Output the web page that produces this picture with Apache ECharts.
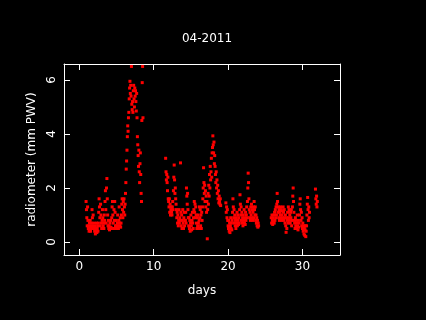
<!DOCTYPE html>
<html>
<head>
<meta charset="utf-8">
<script src="https://cdn.jsdelivr.net/npm/echarts@6/dist/echarts.min.js"></script>
<style>
  html, body { margin: 0; padding: 0; background: #000; }
  #main { width: 426px; height: 320px; }
</style>
</head>
<body>
<div id="main"></div>
<script>
// sampling step of the radiometer record, in days
var step = 0.05;

// PWV (mm), one value per step, per contiguous stretch
var segAStart = 0.9;
var segA = [
  1.5, 1.2, 0.9, 0.6, 1.3, 0.8, 0.5,
  0.6, 0.4, 0.7, 0.5, 0.8, 0.4, 0.6, 0.5, 0.7,
  1.2, 0.9, 0.6, 1.0, 0.5, 0.7,
  0.5, 0.4, 0.6, 0.3, 0.5, 0.4, 0.7, 0.35, 0.5, 0.6, 0.4,
  0.7, 1.1, 1.6, 1.3, 0.9, 0.6, 1.4, 1.0, 0.7, 0.5,
  0.8, 1.2, 0.9, 0.6, 0.7, 0.5, 1.0, 0.8,
  1.5, 1.9, 1.2, 0.7, 2.0, 2.35, 1.6, 1.0, 0.6, 0.8, 0.5,
  0.6, 0.45, 0.7, 0.5, 0.8, 0.55, 0.5,
  0.9, 1.3, 1.5, 1.0, 0.7, 0.5, 1.2, 0.8, 1.5, 1.1, 0.6, 0.5, 0.8, 0.6,
  0.5, 0.7, 1.0, 0.6, 0.5, 0.8, 1.3, 0.7, 0.6, 0.9, 0.55, 0.7,
  1.0, 1.4, 1.6, 1.2, 0.9, 1.5, 1.1, 1.6, 1.3, 1.0, 1.4,
  1.8, 2.2, 2.7, 3.0, 3.4, 3.9, 4.3, 4.1, 4.6,
  4.8, 5.3, 5.7, 5.95, 5.5, 5.8, 5.4, 6.5, 5.1,
  4.9, 5.2, 4.8, 5.6, 5.8, 5.3, 5.0, 5.7, 5.4,
  5.6, 5.2, 4.85, 5.5, 4.6,
  3.9, 3.6, 3.2, 2.8, 3.4, 2.6, 2.2, 2.9,
  3.3, 2.5, 1.8, 1.5,
  4.5, 5.9, 6.5, 4.6
];

var segBStart = 11.6;
var segB = [
  3.1, 2.6, 2.3, 2.5, 2.2, 1.9, 2.4, 1.6,
  1.5, 1.3, 1.6, 1.1, 1.4, 1.0, 1.2, 1.3, 1.1,
  1.0, 1.3, 1.5, 1.2, 1.9, 2.4,
  2.85, 2.3, 1.8, 2.0, 1.6, 1.4,
  1.2, 0.9, 1.1, 0.7, 1.0, 0.6, 0.8, 1.2, 0.7, 0.9,
  0.8, 2.93, 1.1,
  0.6, 1.0, 0.5, 0.8, 1.2, 0.7, 0.5, 0.9, 1.1, 0.6, 0.8,
  0.8, 1.1, 0.7,
  2.0, 1.7, 1.4, 1.8, 1.2, 0.9,
  0.6, 0.9, 0.5, 0.8, 0.4, 0.7, 1.0, 0.6, 0.45, 0.8, 1.1, 0.7, 0.5, 0.9,
  1.2, 1.5, 1.1, 1.4, 0.9, 1.3, 1.0,
  0.7, 0.5, 0.9, 0.6, 1.0, 0.7, 0.5, 0.8,
  1.3, 0.9, 1.2, 0.6, 1.0, 0.5, 1.1, 0.8, 1.3,
  1.6, 2.0, 2.75, 2.2, 1.8, 2.1, 1.5, 1.9, 1.3, 1.7, 1.1,
  1.5, 0.12, 1.2, 1.8,
  1.4, 2.1, 1.7, 2.5, 2.0, 2.8, 2.3, 2.6, 3.1, 2.4, 3.3,
  3.5, 3.93, 3.6, 3.3, 3.7, 2.9, 3.2,
  2.8, 2.5, 2.2, 2.6, 2.0, 2.3, 1.8, 2.1,
  1.6, 1.9, 1.45, 1.7, 1.5, 1.4, 1.6, 1.35
];

var segCStart = 19.7;
var segC = [
  1.45, 1.1, 1.3, 0.9, 1.2, 0.8, 0.6,
  0.5, 0.8, 0.4, 0.7, 0.35, 0.6, 0.9, 0.5, 0.7, 0.45,
  0.8, 1.1, 1.6, 1.3, 0.9, 1.2, 0.7, 1.0,
  0.6, 0.8, 0.5, 0.9, 0.7, 1.1, 0.6, 1.0, 0.8, 0.65, 0.9, 0.7,
  1.2, 1.75, 1.4, 1.0, 1.3, 0.8, 1.1,
  0.7, 0.9, 0.6, 1.0, 0.8, 1.2, 0.7, 0.9, 0.65, 1.1, 0.8, 1.0, 1.3, 0.9,
  1.5, 2.0, 2.55, 2.2, 1.6, 1.2, 0.9,
  1.1, 0.8, 1.3, 1.0, 1.4, 0.9, 1.2, 0.8, 1.1, 1.3, 0.9,
  1.5, 1.2, 1.0, 1.3, 0.8,
  1.0, 0.7, 0.9, 0.6, 0.8, 0.55, 0.7, 0.6
];

var segDStart = 25.8;
var segD = [
  0.9, 0.7, 1.0, 0.8, 0.65, 0.9, 0.75, 1.0, 0.7,
  1.1, 0.8, 1.2, 0.9, 1.3, 1.0,
  1.4, 1.8, 1.5, 1.1, 1.3,
  0.9, 1.2, 0.8, 1.1, 1.0, 1.3, 0.9, 1.2, 0.8, 1.0, 1.15,
  0.9, 1.3, 1.1, 0.8, 1.2, 0.9,
  0.7, 1.0, 0.6, 0.36, 0.9, 0.5, 0.8, 1.1, 0.7, 1.3,
  0.9, 1.2, 0.8, 1.0, 0.7, 1.1, 0.9, 1.2, 0.6, 0.8,
  1.3, 1.7, 2.0, 1.5, 1.1, 0.8,
  0.7, 0.5, 0.9, 0.6, 0.8, 0.5, 0.7, 1.0, 0.6, 0.45, 0.8, 0.55, 0.7,
  1.0, 1.4, 1.6, 1.2, 0.8, 1.1, 0.6, 0.9,
  0.5, 0.7, 0.4, 0.6, 0.3, 0.5, 0.25, 0.45, 0.6, 0.2, 0.4,
  0.6, 1.0, 1.4, 1.65, 1.2, 0.8, 1.3, 0.9, 1.1
];

var segEStart = 31.75;
var segE = [1.96, 1.6, 1.4, 1.7, 1.3, 1.5];

var xTicks = [0, 10, 20, 30];
var yTicks = [0, 2, 4, 6];

function toPoints(start, vals) {
  return vals.map(function (v, i) {
    return [+(start + i * step).toFixed(3), v];
  });
}

var points = [].concat(
  toPoints(segAStart, segA),
  toPoints(segBStart, segB),
  toPoints(segCStart, segC),
  toPoints(segDStart, segD),
  toPoints(segEStart, segE)
);

var chart = echarts.init(document.getElementById('main'), null, { renderer: 'canvas' });

var font = 'DejaVu Sans';
var white = '#ffffff';
var line = { show: true, onZero: false, lineStyle: { color: white, width: 1 } };

function tick(vals) {
  return { show: true, inside: true, length: 6, customValues: vals, lineStyle: { color: white, width: 1 } };
}

var option = {
  backgroundColor: '#000000',
  animation: false,
  title: {
    text: '04-2011',
    left: 202,
    top: 28,
    textAlign: 'center',
    textStyle: { color: white, fontSize: 12, fontWeight: 'normal', fontFamily: font }
  },
  grid: { left: 64, right: 86, top: 64, bottom: 65 },
  xAxis: [
    {
      type: 'value', min: -2.07, max: 35.05, position: 'bottom',
      name: 'days', nameLocation: 'middle', nameGap: 30,
      nameTextStyle: { color: white, fontSize: 12, fontFamily: font },
      axisLine: line,
      axisTick: tick(xTicks),
      axisLabel: { customValues: xTicks, color: white, fontSize: 12, fontFamily: font, margin: 6 },
      splitLine: { show: false }
    },
    {
      type: 'value', min: -2.07, max: 35.05, position: 'top',
      axisLine: line, axisTick: tick(xTicks),
      axisLabel: { show: false }, splitLine: { show: false }
    }
  ],
  yAxis: [
    {
      type: 'value', min: -0.48, max: 6.59, position: 'left',
      name: 'radiometer (mm PWV)', nameLocation: 'middle', nameGap: 21,
      nameTextStyle: { color: white, fontSize: 12, fontFamily: font },
      axisLine: line,
      axisTick: tick(yTicks),
      axisLabel: { customValues: yTicks, color: white, fontSize: 12, fontFamily: font, margin: 6, rotate: 90 },
      splitLine: { show: false }
    },
    {
      type: 'value', min: -0.48, max: 6.59, position: 'right',
      axisLine: line, axisTick: tick(yTicks),
      axisLabel: { show: false }, splitLine: { show: false }
    }
  ],
  series: [{
    type: 'scatter',
    xAxisIndex: 0,
    yAxisIndex: 0,
    data: points,
    symbol: 'rect',
    symbolSize: 3,
    itemStyle: { color: '#ff0000', opacity: 1 },
    silent: true
  }]
};

chart.setOption(option);
</script>
</body>
</html>
